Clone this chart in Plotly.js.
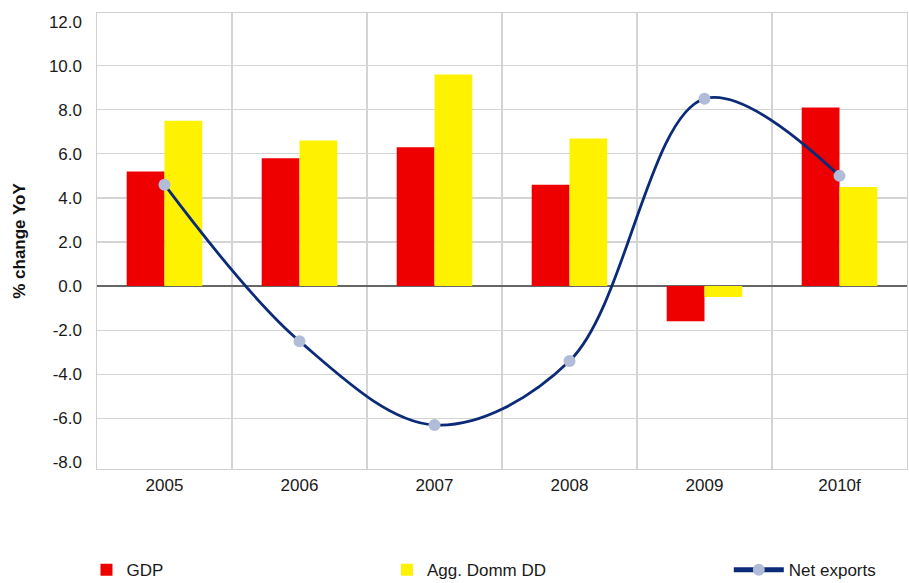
<!DOCTYPE html>
<html>
<head>
<meta charset="utf-8">
<script src="https://cdn.plot.ly/plotly-3.0.1.min.js"></script>
<style>html,body{margin:0;padding:0;background:#fff;}#chart{width:909px;height:583px;}</style>
</head>
<body>
<div id="chart"></div>
<script>
var categories = ['2005', '2006', '2007', '2008', '2009', '2010f'];
var gdp = [5.2, 5.8, 6.3, 4.6, -1.6, 8.1];
var aggDommDD = [7.5, 6.6, 9.6, 6.7, -0.5, 4.5];
var netExports = [4.6, -2.5, -6.3, -3.4, 8.5, 5.0];
var yTickValues = [-8, -6, -4, -2, 0, 2, 4, 6, 8, 10, 12];
var yTickLabels = ['-8.0', '-6.0', '-4.0', '-2.0', '0.0', '2.0', '4.0', '6.0', '8.0', '10.0', '12.0'];
var yGridValues = [-6, -4, -2, 0, 2, 4, 6, 8, 10];

var fontFam = '"Liberation Sans", Arial, Helvetica, sans-serif';
var yRange = [-8.3, 12.39];

var traces = [
  {type: 'bar', name: 'GDP', x: categories, y: gdp, marker: {color: '#EE0000'}, legend: 'legend'},
  {type: 'bar', name: 'Agg. Domm DD', x: categories, y: aggDommDD, marker: {color: '#FFF200'}, legend: 'legend2'},
  {type: 'scatter', mode: 'lines+markers', name: 'Net exports', x: categories, y: netExports,
   line: {color: '#0B2A78', width: 2.8, shape: 'spline', smoothing: 1},
   marker: {color: '#B0BCD8', size: 12}, legend: 'legend3'},
  {type: 'scatter', mode: 'markers', x: categories, y: netExports, yaxis: 'y2',
   marker: {opacity: 0}, showlegend: false, hoverinfo: 'skip'}
];

var legendBase = {
  orientation: 'h', y: -0.222, yanchor: 'middle', xanchor: 'left',
  font: {family: fontFam, size: 17, color: '#1a1a1a'}, bgcolor: 'rgba(0,0,0,0)'
};

var layout = {
  width: 909, height: 583,
  margin: {l: 97, r: 2, t: 13, b: 114, autoexpand: false},
  paper_bgcolor: '#fff', plot_bgcolor: '#fff',
  font: {family: fontFam, size: 17, color: '#1a1a1a'},
  barmode: 'group', bargap: 0.44, bargroupgap: 0,
  xaxis: {
    type: 'category', tickson: 'boundaries', showgrid: true, gridcolor: '#d4d4d4', gridwidth: 1.2,
    showline: true, linecolor: '#d0d0d0', linewidth: 1.2, mirror: true, ticks: '',
    tickfont: {family: fontFam, size: 17, color: '#1a1a1a'}, fixedrange: true
  },
  yaxis: {
    range: yRange, tickvals: yGridValues, showticklabels: false, showgrid: true,
    gridcolor: '#d4d4d4', gridwidth: 1.2, zeroline: true, zerolinecolor: '#666666', zerolinewidth: 1.6,
    showline: true, linecolor: '#d0d0d0', linewidth: 1.2, mirror: true, ticks: '',
    title: {text: ''}
  },
  yaxis2: {
    overlaying: 'y', side: 'left', range: yRange, tickvals: yTickValues, ticktext: yTickLabels,
    showgrid: false, zeroline: false, showline: false, ticks: '', ticklabelstandoff: 14,
    tickfont: {family: fontFam, size: 17, color: '#1a1a1a'},
    title: {text: '% change YoY', font: {family: fontFam, size: 17, color: '#111', weight: 'bold'}, standoff: 18}
  },
  showlegend: true,
  legend: Object.assign({}, legendBase, {x: -0.013}),
  legend2: Object.assign({}, legendBase, {x: 0.358}),
  legend3: Object.assign({}, legendBase, {x: 0.78, itemwidth: 50, itemsizing: 'constant'})
};

Plotly.newPlot('chart', traces, layout, {displayModeBar: false, staticPlot: true});
</script>
</body>
</html>
